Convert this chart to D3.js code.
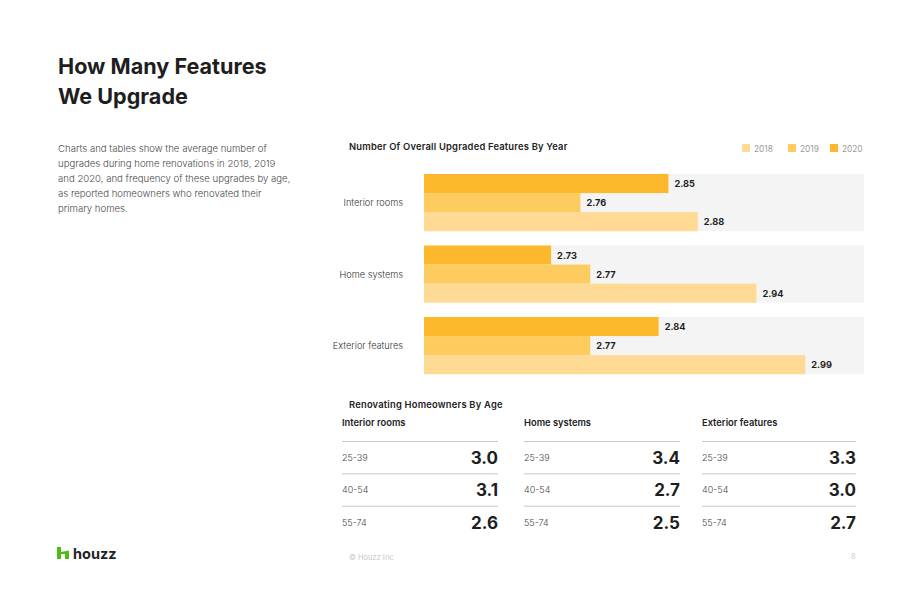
<!DOCTYPE html>
<html>
<head>
<meta charset="utf-8">
<script src="https://cdn.jsdelivr.net/npm/d3@7"></script>
<style>
  body { margin: 0; background: #fff; }
  svg { display: block; font-family: Inter, Lato, sans-serif; }
</style>
</head>
<body>
<svg id="chart"></svg>
<script>
var width = 920;
var height = 596;

// bar chart data
var categories = ["Interior rooms", "Home systems", "Exterior features"];
var years = ["2020", "2019", "2018"];
var legendYears = ["2018", "2019", "2020"];
var values2020 = [2.85, 2.73, 2.84];
var values2019 = [2.76, 2.77, 2.77];
var values2018 = [2.88, 2.94, 2.99];

// table data
var ageGroups = ["25-39", "40-54", "55-74"];
var ageInterior = [3.0, 3.1, 2.6];
var ageSystems = [3.4, 2.7, 2.5];
var ageExterior = [3.3, 3.0, 2.7];

var colors = {"2020": "#fdb92b", "2019": "#fecb5e", "2018": "#feda94"};

var svg = d3.select('#chart')
    .attr('width', width)
    .attr('height', height);

// heading
svg.append('text')
    .attr('x', 58).attr('y', 74)
    .attr('font-size', 21.6).attr('font-weight', 700).attr('fill', '#1e1e1e')
    .text('How Many Features');
svg.append('text')
    .attr('x', 58).attr('y', 104)
    .attr('font-size', 21.6).attr('font-weight', 700).attr('fill', '#1e1e1e')
    .text('We Upgrade');

var desc = [
    "Charts and tables show the average number of",
    "upgrades during home renovations in 2018, 2019",
    "and 2020, and frequency of these upgrades by age,",
    "as reported homeowners who renovated their",
    "primary homes."
];
svg.append('g').selectAll('text')
    .data(desc)
    .join('text')
    .attr('x', 58)
    .attr('y', function(d, i){ return 152 + i * 15; })
    .attr('font-size', 9.6)
    .attr('font-weight', 300)
    .attr('fill', '#4a4a4a')
    .text(function(d){ return d; });

// bar chart
svg.append('text')
    .attr('x', 349).attr('y', 150)
    .attr('font-size', 9.4).attr('font-weight', 600).attr('fill', '#222')
    .attr('letter-spacing', 0.2)
    .text('Number Of Overall Upgraded Features By Year');

var legendX = d3.scaleOrdinal().domain(legendYears).range([742, 788, 830]);
svg.append('g').selectAll('rect')
    .data(legendYears)
    .join('rect')
    .attr('x', function(d){ return legendX(d); })
    .attr('y', 144)
    .attr('width', 8).attr('height', 8)
    .attr('fill', function(d){ return colors[d]; });
svg.append('g').selectAll('text')
    .data(legendYears)
    .join('text')
    .attr('x', function(d){ return legendX(d) + 12; })
    .attr('y', 151.5)
    .attr('font-size', 8.3)
    .attr('fill', '#9a9a9a')
    .text(function(d){ return d; });

var x = d3.scaleLinear().domain([2.6, 3.05]).range([424, 864]);
var y = d3.scaleBand().domain(categories).range([174, 374.2]).paddingInner(0.2);
var yInner = d3.scaleBand().domain(years).range([0, y.bandwidth()]);

var rows = categories.map(function(c, i){
    return {cat: c, vals: {"2020": values2020[i], "2019": values2019[i], "2018": values2018[i]}};
});

var group = svg.append('g').selectAll('g')
    .data(rows)
    .join('g')
    .attr('transform', function(d){ return 'translate(0,' + y(d.cat) + ')'; });

group.append('rect')
    .attr('x', x.range()[0])
    .attr('y', 0)
    .attr('width', x.range()[1] - x.range()[0])
    .attr('height', y.bandwidth())
    .attr('fill', '#f4f4f4');

group.append('text')
    .attr('x', 403)
    .attr('y', y.bandwidth() / 2 + 3.5)
    .attr('text-anchor', 'end')
    .attr('font-size', 9.2)
    .attr('font-weight', 300)
    .attr('fill', '#333')
    .text(function(d){ return d.cat; });

years.forEach(function(yr){
    group.append('rect')
        .attr('x', x(2.6))
        .attr('y', yInner(yr))
        .attr('width', function(d){ return x(d.vals[yr]) - x(2.6); })
        .attr('height', yInner.bandwidth())
        .attr('fill', colors[yr]);
    group.append('text')
        .attr('x', function(d){ return x(d.vals[yr]) + 6; })
        .attr('y', yInner(yr) + yInner.bandwidth() / 2 + 3.5)
        .attr('font-size', 9.2)
        .attr('font-weight', 700)
        .attr('fill', '#1e1e1e')
        .text(function(d){ return d3.format('.2f')(d.vals[yr]); });
});

// age tables
svg.append('text')
    .attr('x', 349).attr('y', 408)
    .attr('font-size', 9.4).attr('font-weight', 600).attr('fill', '#222')
    .attr('letter-spacing', 0.2)
    .text('Renovating Homeowners By Age');

var tables = [
    {title: "Interior rooms", vals: ageInterior, x0: 342, x1: 498},
    {title: "Home systems", vals: ageSystems, x0: 524, x1: 680},
    {title: "Exterior features", vals: ageExterior, x0: 702, x1: 856}
];
var rowY = d3.scaleBand().domain(ageGroups).range([441, 538]);

tables.forEach(function(t){
    var g = svg.append('g');
    g.append('text')
        .attr('x', t.x0).attr('y', 426)
        .attr('font-size', 9.35).attr('font-weight', 600).attr('fill', '#222')
        .text(t.title);
    g.selectAll('line')
        .data(ageGroups)
        .join('line')
        .attr('x1', t.x0).attr('x2', t.x1)
        .attr('y1', function(d){ return rowY(d) + 0.5; })
        .attr('y2', function(d){ return rowY(d) + 0.5; })
        .attr('stroke', '#c8c8c8')
        .attr('stroke-width', 1);
    g.selectAll('text.age')
        .data(ageGroups)
        .join('text')
        .attr('class', 'age')
        .attr('x', t.x0)
        .attr('y', function(d){ return rowY(d) + 20; })
        .attr('font-size', 9)
        .attr('font-weight', 300)
        .attr('fill', '#444')
        .text(function(d){ return d; });
    g.selectAll('text.val')
        .data(t.vals)
        .join('text')
        .attr('class', 'val')
        .attr('x', t.x1)
        .attr('y', function(d, i){ return rowY(ageGroups[i]) + 23; })
        .attr('text-anchor', 'end')
        .attr('font-size', 17)
        .attr('font-weight', 700)
        .attr('fill', '#1e1e1e')
        .text(function(d){ return d3.format('.1f')(d); });
});

// footer
svg.append('path')
    .attr('d', 'M57,547 h4 v12 h-4 Z M61,552 l8,-1.5 v8.5 h-4 v-5 h-4 Z')
    .attr('fill', '#4dbc15');
svg.append('text')
    .attr('x', 73).attr('y', 559)
    .attr('font-size', 14.5).attr('font-weight', 700).attr('fill', '#222')
    .text('houzz');
svg.append('text')
    .attr('x', 349).attr('y', 560)
    .attr('font-size', 7.5).attr('fill', '#c8c8c8')
    .text('© Houzz Inc');
svg.append('text')
    .attr('x', 851).attr('y', 559)
    .attr('font-size', 7.5).attr('fill', '#c8c8c8')
    .text('8');
</script>
</body>
</html>
